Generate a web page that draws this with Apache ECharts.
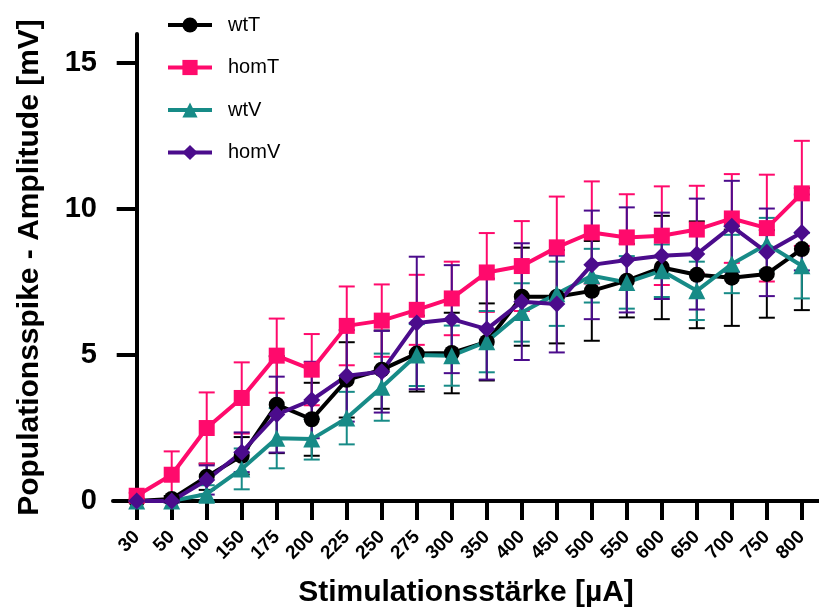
<!DOCTYPE html>
<html>
<head>
<meta charset="utf-8">
<script src="https://cdn.jsdelivr.net/npm/echarts@6/dist/echarts.min.js"></script>
<style>html,body{margin:0;padding:0;background:#fff}#c{width:819px;height:613px}</style>
</head>
<body>
<div id="c"></div>
<script>
var categories = ['30','50','100','150','175','200','225','250','275','300','350','400','450','500','550','600','650','700','750','800'];
var yTicks = [0, 5, 10, 15];

var wtT    = [0, 0.07, 0.83, 1.55, 3.3, 2.8, 4.15, 4.5, 5.05, 5.07, 5.45, 7.0, 7.0, 7.2, 7.55, 8.0, 7.75, 7.65, 7.78, 8.63];
var wtTErr = [0, 0.1, 0.45, 0.64, 1.66, 1.25, 1.29, 1.34, 1.3, 1.38, 1.32, 1.68, 1.6, 1.71, 1.26, 1.77, 1.83, 1.65, 1.5, 2.09];

var homT    = [0.18, 0.9, 2.5, 3.53, 4.98, 4.5, 6.0, 6.18, 6.55, 6.94, 7.83, 8.05, 8.69, 9.2, 9.03, 9.09, 9.3, 9.68, 9.35, 10.54];
var homTErr = [0.1, 0.8, 1.22, 1.22, 1.27, 1.22, 1.35, 1.24, 1.2, 1.26, 1.35, 1.54, 1.74, 1.75, 1.48, 1.69, 1.5, 1.52, 1.83, 1.8];

var wtV    = [0, 0, 0.24, 1.1, 2.15, 2.12, 2.84, 3.9, 5.0, 4.98, 5.46, 6.46, 7.1, 7.72, 7.49, 7.89, 7.2, 8.12, 8.8, 8.06];
var wtVErr = [0, 0.05, 0.3, 0.7, 1.03, 0.7, 0.9, 1.15, 1.06, 1.03, 1.05, 1.0, 1.1, 0.92, 0.9, 0.9, 1.0, 1.0, 0.9, 1.12];

var homV    = [0, 0, 0.72, 1.67, 2.96, 3.46, 4.29, 4.43, 6.1, 6.23, 5.89, 6.83, 6.75, 8.09, 8.26, 8.4, 8.46, 9.41, 8.52, 9.2];
var homVErr = [0, 0.05, 0.5, 0.68, 1.3, 1.31, 1.57, 1.4, 2.27, 1.85, 1.73, 2.0, 1.66, 1.86, 1.8, 1.48, 1.9, 1.56, 1.5, 1.3];

var FONT = '"Liberation Sans", Arial, Helvetica, sans-serif';
var idx = categories.map(function (c, i) { return i; });

function pts(vals) { return vals.map(function (v, i) { return [i, v]; }); }
function errPts(vals, errs) { return vals.map(function (v, i) { return [i, v - errs[i], v + errs[i]]; }); }

function errSeries(name, vals, errs, color) {
  return {
    type: 'custom',
    name: name + '_err',
    z: 1,
    silent: true,
    data: errPts(vals, errs),
    encode: { x: 0, y: [1, 2] },
    renderItem: function (params, api) {
      var lo = api.coord([api.value(0), api.value(1)]);
      var hi = api.coord([api.value(0), api.value(2)]);
      var hw = 8;
      var st = { stroke: color, lineWidth: 2 };
      return {
        type: 'group',
        children: [
          { type: 'line', shape: { x1: lo[0], y1: lo[1], x2: hi[0], y2: hi[1] }, style: st },
          { type: 'line', shape: { x1: hi[0] - hw, y1: hi[1], x2: hi[0] + hw, y2: hi[1] }, style: st },
          { type: 'line', shape: { x1: lo[0] - hw, y1: lo[1], x2: lo[0] + hw, y2: lo[1] }, style: st }
        ]
      };
    }
  };
}

function lineSeries(name, vals, color, symbol, size) {
  return {
    type: 'line',
    name: name,
    z: 3,
    data: pts(vals),
    symbol: symbol,
    symbolSize: size,
    showAllSymbol: true,
    lineStyle: { color: color, width: 4 },
    itemStyle: { color: color, borderWidth: 0 },
    emphasis: { disabled: true },
    animation: false
  };
}

var chart = echarts.init(document.getElementById('c'), null, { renderer: 'canvas' });
chart.setOption({
  animation: false,
  backgroundColor: '#fff',
  grid: { left: 113, right: 0, top: 34, bottom: 111, containLabel: false },
  legend: {
    orient: 'vertical',
    left: 161,
    top: 10,
    itemWidth: 44,
    itemHeight: 19,
    itemGap: 22.5,
    data: ['wtT', 'homT', 'wtV', 'homV'],
    lineStyle: { width: 4 },
    textStyle: { fontFamily: FONT, fontSize: 20, color: '#000', padding: [0, 0, 0, 11] }
  },
  xAxis: {
    type: 'value',
    min: -0.677,
    max: 19.49,
    name: 'Stimulationsstärke [µA]',
    nameLocation: 'middle',
    nameGap: 77,
    nameTextStyle: { fontFamily: FONT, fontSize: 30, fontWeight: 'bold', color: '#000' },
    axisLine: { show: true, lineStyle: { color: '#000', width: 4 } },
    axisTick: { show: true, length: 19, lineStyle: { color: '#000', width: 4 }, customValues: idx },
    axisLabel: {
      customValues: idx,
      rotate: 45,
      margin: 33,
      fontFamily: FONT, fontSize: 19, fontWeight: 'bold', color: '#000',
      formatter: function (v) { return categories[Math.round(v)]; }
    },
    splitLine: { show: false }
  },
  yAxis: {
    type: 'value',
    min: 0,
    max: 16,
    name: 'Populationsspike - Amplitude [mV]',
    nameLocation: 'middle',
    nameGap: 68,
    nameRotate: 90,
    nameTextStyle: { fontFamily: FONT, fontSize: 30, fontWeight: 'bold', color: '#000' },
    axisLine: { show: true, lineStyle: { color: '#000', width: 4 } },
    axisTick: { show: true, length: 20, lineStyle: { color: '#000', width: 4 }, customValues: yTicks },
    axisLabel: { customValues: yTicks, margin: 16, fontFamily: FONT, fontSize: 29, fontWeight: 'bold', color: '#000' },
    splitLine: { show: false }
  },
  series: [
    errSeries('wtT', wtT, wtTErr, '#000000'),
    errSeries('homT', homT, homTErr, '#FF0A6C'),
    errSeries('wtV', wtV, wtVErr, '#178B87'),
    errSeries('homV', homV, homVErr, '#4B0C8C'),
    lineSeries('wtT', wtT, '#000000', 'circle', 16),
    lineSeries('homT', homT, '#FF0A6C', 'rect', 16),
    lineSeries('wtV', wtV, '#178B87', 'triangle', 17),
    lineSeries('homV', homV, '#4B0C8C', 'diamond', 17)
  ]
});
</script>
</body>
</html>
